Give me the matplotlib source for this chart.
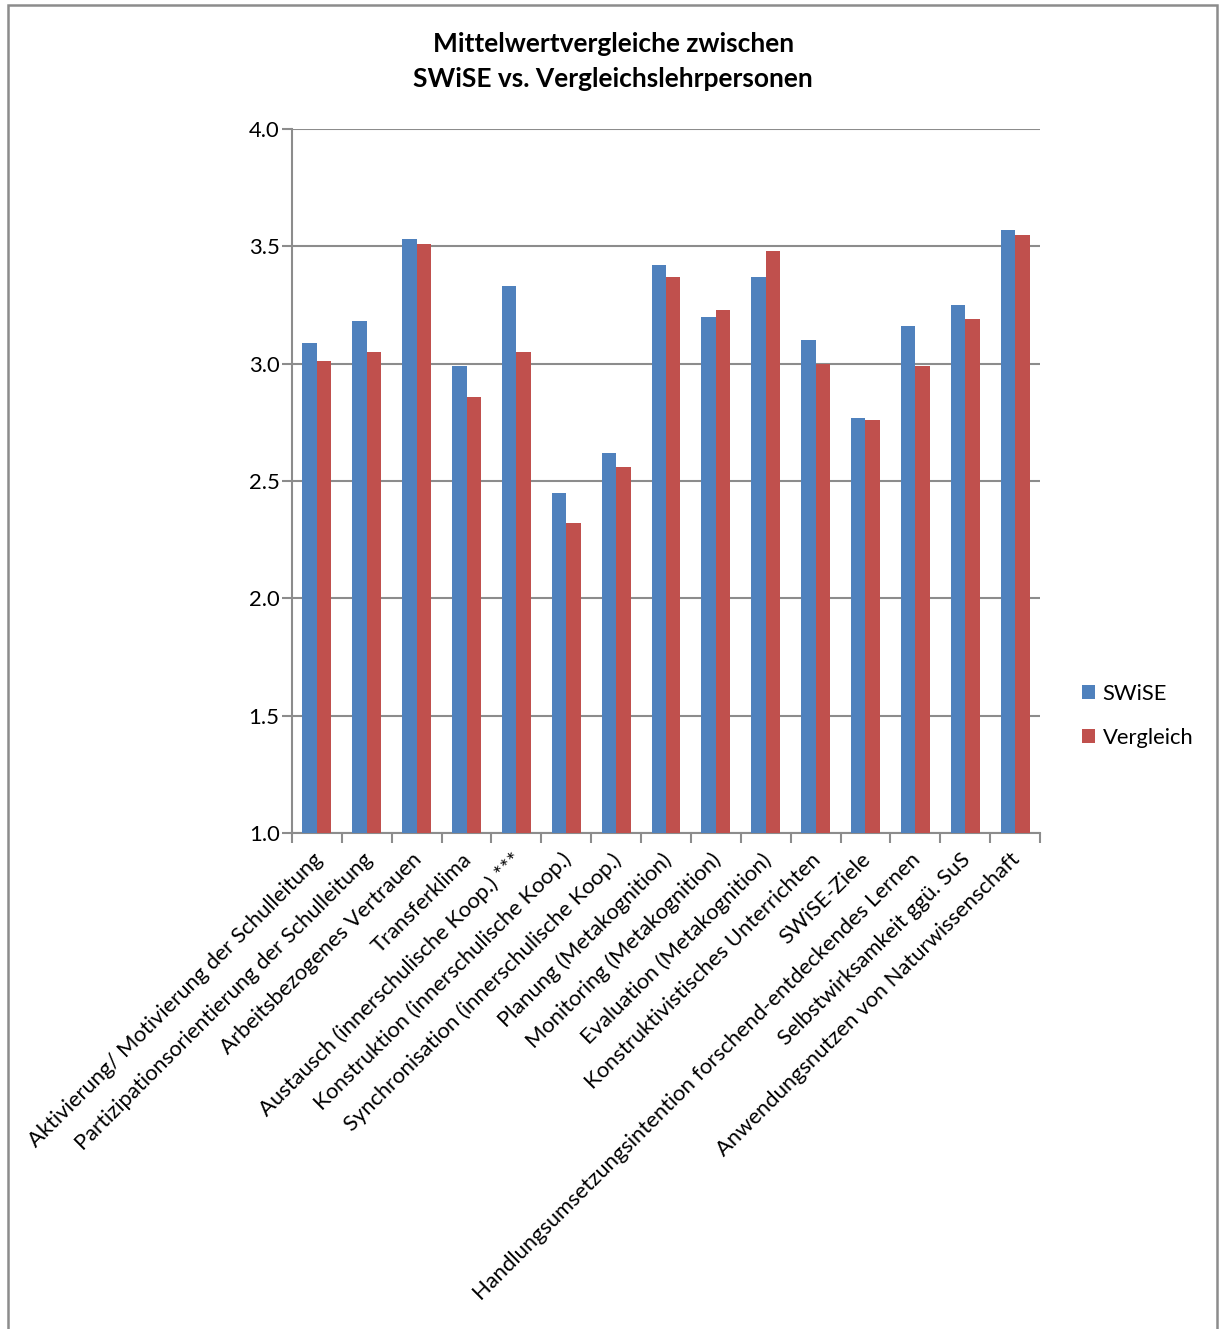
import numpy as np
import matplotlib.pyplot as plt
from matplotlib.patches import Rectangle

plt.rcParams['font.family'] = ['Lato', 'DejaVu Sans']

categories = [
    'Aktivierung/ Motivierung der Schulleitung',
    'Partizipationsorientierung der Schulleitung',
    'Arbeitsbezogenes Vertrauen',
    'Transferklima',
    'Austausch (innerschulische Koop.) ***',
    'Konstruktion (innerschulische Koop.)',
    'Synchronisation (innerschulische Koop.)',
    'Planung (Metakognition)',
    'Monitoring (Metakognition)',
    'Evaluation (Metakognition)',
    'Konstruktivistisches Unterrichten',
    'SWiSE-Ziele',
    'Handlungsumsetzungsintention forschend-entdeckendes Lernen',
    'Selbstwirksamkeit ggü. SuS',
    'Anwendungsnutzen von Naturwissenschaft',
]
swise = [3.09, 3.18, 3.53, 2.99, 3.33, 2.45, 2.62, 3.42, 3.20, 3.37, 3.10, 2.77, 3.16, 3.25, 3.57]
vergleich = [3.01, 3.05, 3.51, 2.86, 3.05, 2.32, 2.56, 3.37, 3.23, 3.48, 3.00, 2.76, 2.99, 3.19, 3.55]
yticks = [1.0, 1.5, 2.0, 2.5, 3.0, 3.5, 4.0]

blue = '#4F81BD'
red = '#C0504D'
grey = '#8C8C8C'
fs = 15.8

fig = plt.figure(figsize=(12.19, 13.29), dpi=100)
ax = fig.add_axes([292 / 1219, 1 - 833 / 1329, (1040 - 292) / 1219, (833 - 129) / 1329])

x = np.arange(len(categories))
w = 0.29
ax.bar(x - w / 2, np.array(swise) - 1.0, w, bottom=1.0, color=blue, label='SWiSE', zorder=3)
ax.bar(x + w / 2, np.array(vergleich) - 1.0, w, bottom=1.0, color=red, label='Vergleich', zorder=3)

ax.set_ylim(1.0, 4.0)
ax.set_xlim(-0.5, len(categories) - 0.5)
ax.set_yticks(yticks)
ax.set_yticklabels(['%.1f' % v for v in yticks], fontsize=fs)
ax.yaxis.grid(True, color=grey, linewidth=1.5, zorder=0)
ax.set_axisbelow(True)

ax.set_xticks(np.arange(len(categories) + 1) - 0.5, minor=False)
ax.set_xticklabels([])
ax.tick_params(axis='x', length=7, width=1.5, color=grey, direction='out')
ax.tick_params(axis='y', length=7, width=1.5, color=grey, direction='out', pad=2)
for i, c in enumerate(categories):
    ax.text(i - 0.1, 0.93, c, rotation=45, ha='right', va='top', rotation_mode='anchor',
            fontsize=fs, transform=ax.transData, clip_on=False)

for s in ['top', 'right']:
    ax.spines[s].set_visible(False)
for s in ['left', 'bottom']:
    ax.spines[s].set_color(grey)
    ax.spines[s].set_linewidth(1.5)

fig.text(0.503, 1 - 44 / 1329, 'Mittelwertvergleiche zwischen', ha='center', va='center',
         fontsize=19, fontweight='bold')
fig.text(0.503, 1 - 79 / 1329, 'SWiSE vs. Vergleichslehrpersonen', ha='center', va='center',
         fontsize=19, fontweight='bold')

fig.legend(loc='center left', bbox_to_anchor=(1062 / 1219, 1 - 716 / 1329), frameon=False,
           fontsize=fs, handlelength=0.6, handleheight=0.6, handletextpad=0.35, labelspacing=1.1)

fig.add_artist(Rectangle((8 / 1219, -0.01), (1217 - 8) / 1219, 1.01 - 5 / 1329,
                         transform=fig.transFigure, fill=False, edgecolor=grey, linewidth=1.8))

fig.savefig('out.png', dpi=100)
